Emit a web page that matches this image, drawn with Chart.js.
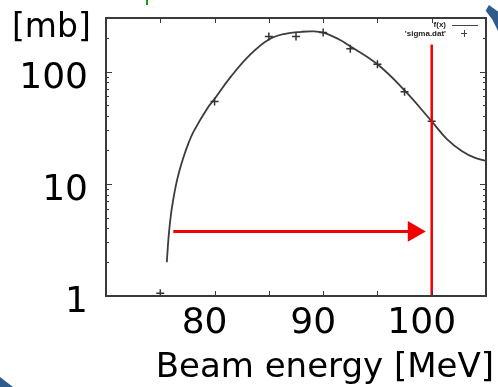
<!DOCTYPE html>
<html>
<head>
<meta charset="utf-8">
<script src="https://cdn.jsdelivr.net/npm/chart.js@4"></script>
<style>
  html, body { margin:0; padding:0; background:#fff; }
  #wrap { position:relative; width:498px; height:387px; overflow:hidden; }
  #wrap canvas { position:absolute; left:0; top:0; }
  .deco { position:absolute; }
</style>
</head>
<body>
<div id="wrap">
  <canvas id="mychart" width="498" height="387"></canvas>
  <div class="deco" style="left:146px;top:0;width:2px;height:5px;background:#1a9a1a"></div>
  <div class="deco" style="left:485px;top:5px;width:13px;height:26px;background:#2f5b8e;clip-path:polygon(5% 22%,30% 0,100% 25%,100% 100%,55% 55%)"></div>
  <div class="deco" style="left:0;top:377px;width:13px;height:10px;background:#2f5b8e;clip-path:polygon(0 0,100% 100%,0 100%)"></div>
</div>
<script>
// fitted curve f(x)
var curveX = [75.6, 75.77, 75.98, 76.17, 76.4, 76.7, 77.1, 77.6, 78.1, 79.4, 80, 81.5, 83.3, 85, 86.5, 88, 89, 90, 91.4, 92.5, 95, 97.5, 100, 101.4, 102.8, 104, 105]
var curveY = [2.0, 3.4, 5.3, 7.0, 9.3, 12.4, 16.8, 23, 29.6, 48, 57, 90, 142, 193, 217, 226, 228, 222, 195, 168, 116, 68, 36, 25, 19.5, 17, 16]
// measured points 'sigma.dat'
var dataX = [75, 80, 85, 87.5, 90, 92.5, 95, 97.5, 100]
var dataY = [1.06, 54, 205, 205, 223, 160, 116, 66, 36]
// red marker line and arrow
var markX = [100, 100]
var markY = [1, 174]
var arrowX = [76.2, 98.35]
var arrowY = [3.76, 3.76]
var xTickLabels = [80, 90, 100]
var yTickLabels = [1, 10, 100]

function pts(xs, ys){ return xs.map(function(v,i){ return {x:v, y:ys[i]} }) }

var frame = {
  id:'frame',
  afterDraw: function(chart){
    var ctx = chart.ctx, a = chart.chartArea, x = chart.scales.x, y = chart.scales.y
    ctx.save()
    ctx.strokeStyle = '#3a3a3a'
    ctx.lineWidth = 2
    ctx.strokeRect(a.left, a.top, a.right-a.left, a.bottom-a.top)
    ctx.lineWidth = 1
    ctx.beginPath()
    for (var v = 75; v < 105; v += 5) {
      var px = Math.round(x.getPixelForValue(v)) + 0.5
      ctx.moveTo(px, a.bottom); ctx.lineTo(px, a.bottom-5)
      ctx.moveTo(px, a.top); ctx.lineTo(px, a.top+5)
    }
    for (var d = 1; d <= 100; d *= 10) {
      for (var m = 1; m <= 9; m++) {
        var val = m*d
        if (val <= 1 || val > 300) continue
        var py = Math.round(y.getPixelForValue(val)) + 0.5
        var len = m == 1 ? 6 : 3
        ctx.moveTo(a.left, py); ctx.lineTo(a.left+len, py)
        ctx.moveTo(a.right, py); ctx.lineTo(a.right-len, py)
      }
    }
    ctx.stroke()
    // unit label and axis title
    ctx.fillStyle = '#000'
    ctx.font = '33px "DejaVu Sans"'
    ctx.textBaseline = 'alphabetic'
    ctx.textAlign = 'left'
    ctx.fillText('[mb]', 12, 37)
    ctx.font = '34px "DejaVu Sans"'
    ctx.textAlign = 'right'
    ctx.fillText('Beam energy [MeV]', 494, 377)
    // gnuplot style key
    ctx.font = 'bold 8px "Liberation Sans"'
    ctx.fillStyle = '#222'
    ctx.fillText('f(x)', 446, 27)
    ctx.fillText("'sigma.dat'", 446, 36)
    ctx.strokeStyle = '#444'
    ctx.beginPath()
    ctx.moveTo(452, 25.5); ctx.lineTo(478, 25.5)
    ctx.moveTo(461, 33.5); ctx.lineTo(467, 33.5)
    ctx.moveTo(464.5, 30); ctx.lineTo(464.5, 37)
    ctx.stroke()
    ctx.restore()
  }
}

var mychart = document.getElementById('mychart').getContext('2d')
var chart = new Chart(mychart, {
  type:'scatter',
  data:{
    datasets:[
      {
        label:'mark',
        data: pts(markX, markY),
        showLine:true,
        borderColor:'#f00000',
        borderWidth:2.5,
        pointRadius:0
      },
      {
        label:'arrow',
        data: pts(arrowX, arrowY),
        showLine:true,
        borderColor:'#f00000',
        backgroundColor:'#f00000',
        borderWidth:3,
        pointRadius:[0, 9],
        pointStyle:'triangle',
        rotation:90
      },
      {
        label:"'sigma.dat'",
        data: pts(dataX, dataY),
        pointStyle:'cross',
        pointRadius:4,
        borderWidth:1.5,
        borderColor:'#333'
      },
      {
        label:'f(x)',
        data: pts(curveX, curveY),
        showLine:true,
        tension:0.4,
        borderColor:'#3c3c3c',
        borderWidth:1.8,
        pointRadius:0
      }
    ]
  },
  options:{
    responsive:false,
    animation:false,
    events:[],
    layout:{ padding:{ left:0, right:12, top:18, bottom:0 } },
    plugins:{ legend:{ display:false }, tooltip:{ enabled:false } },
    scales:{
      x:{
        type:'linear',
        min:70, max:105,
        grid:{ display:false, drawTicks:false },
        border:{ display:false },
        afterBuildTicks: function(s){ s.ticks = xTickLabels.map(function(v){ return {value:v} }) },
        ticks:{ color:'#000', padding:6, labelOffset:-10, maxRotation:0, font:{ family:'DejaVu Sans', size:36 } },
        afterFit: function(s){ s.height = 91; s.paddingLeft = 0; s.paddingRight = 0 }
      },
      y:{
        type:'logarithmic',
        min:1, max:300,
        grid:{ display:false, drawTicks:false },
        border:{ display:false },
        afterBuildTicks: function(s){ s.ticks = yTickLabels.map(function(v){ return {value:v} }) },
        ticks:{ color:'#000', padding:18, labelOffset:7, font:{ family:'DejaVu Sans', size:36 }, callback:function(v){ return String(v) } },
        afterFit: function(s){ s.width = 106; s.paddingTop = 0; s.paddingBottom = 0 }
      }
    }
  },
  plugins:[frame]
})
</script>
</body>
</html>
